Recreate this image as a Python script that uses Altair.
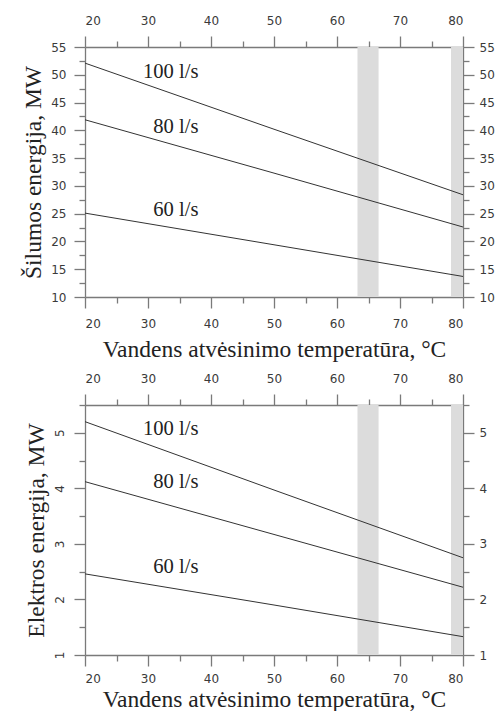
import altair as alt
import pandas as pd

# ---- data ----
temps = [20, 50, 80]
heat_100 = [52.1, 40.2, 28.4]
heat_80 = [41.9, 32.3, 22.6]
heat_60 = [25.1, 19.4, 13.7]
elec_100 = [5.20, 3.97, 2.75]
elec_80 = [4.12, 3.17, 2.22]
elec_60 = [2.46, 1.90, 1.33]
flows = ["100 l/s", "80 l/s", "60 l/s"]

band_start = [63.25, 78.1]
band_end = [66.6, 80.0]

label_x = [38.0, 38.0, 38.0]
heat_label_y = [49.45, 39.6, 24.6]
elec_label_y = [4.96, 4.0, 2.48]

x_major = [20, 30, 40, 50, 60, 70, 80]
x_minor = [25, 35, 45, 55, 65, 75]
heat_major = [10, 15, 20, 25, 30, 35, 40, 45, 50, 55]
heat_minor = [12.5, 17.5, 22.5, 27.5, 32.5, 37.5, 42.5, 47.5, 52.5]
elec_major = [1, 2, 3, 4, 5]
elec_minor = [1.5, 2.5, 3.5, 4.5, 5.5]

x_title = "Vandens atvėsinimo temperatūra, °C"

SERIF = "Liberation Serif"
SANS = "DejaVu Sans"
AXIS_COLOR = "#7a7a7a"
MAJOR = 11
MINOR = 6


def minor_axis(orient, values):
    return alt.Axis(orient=orient, values=values, title=None, labels=False,
                    domain=False, tickSize=MINOR)


def panel(series, y_major, y_minor, domain, y_title, label_y, left_angle,
          bottom_label_pad, x_title_pad):
    rows = []
    for flow, vals in zip(flows, series):
        for t, v in zip(temps, vals):
            rows.append({"temp": t, "value": v, "flow": flow})
    lines_df = pd.DataFrame(rows)
    bands_df = pd.DataFrame({"start": band_start, "end": band_end})
    labels_df = pd.DataFrame({"temp": label_x, "value": label_y, "flow": flows})

    xs = alt.Scale(domain=[20, 80], nice=False, zero=False)
    ys = alt.Scale(domain=domain, nice=False, zero=False)

    bands = alt.Chart(bands_df).mark_rect(color="#dcdcdc").encode(
        x=alt.X("start:Q", scale=xs, axis=alt.Axis(
            orient="bottom", values=x_major, title=x_title, tickSize=MAJOR,
            labelPadding=bottom_label_pad, titlePadding=x_title_pad)),
        x2="end:Q",
    )

    left_axis = dict(orient="left", values=y_major, title=y_title, tickSize=MAJOR,
                     labelPadding=8, titlePadding=5)
    if left_angle:
        left_axis.update(labelAngle=-90, labelAlign="center", labelBaseline="bottom")

    lines = alt.Chart(lines_df).mark_line(color="#333333", strokeWidth=1).encode(
        x=alt.X("temp:Q", scale=xs, axis=alt.Axis(
            orient="top", values=x_major, title=None, tickSize=MAJOR, labelPadding=9)),
        y=alt.Y("value:Q", scale=ys, axis=alt.Axis(**left_axis)),
        detail="flow:N",
    )

    labels = alt.Chart(labels_df).mark_text(
        font=SERIF, fontSize=20.6, align="right", baseline="alphabetic", color="#222222"
    ).encode(
        x=alt.X("temp:Q", scale=xs, axis=None),
        y=alt.Y("value:Q", scale=ys, axis=alt.Axis(
            orient="right", values=y_major, title=None, tickSize=MAJOR, labelPadding=5)),
        text="flow:N",
    )

    ghost_a = alt.Chart(lines_df).mark_point(opacity=0).encode(
        x=alt.X("temp:Q", scale=xs, axis=minor_axis("bottom", x_minor)),
        y=alt.Y("value:Q", scale=ys, axis=minor_axis("left", y_minor)),
    )
    ghost_b = alt.Chart(lines_df).mark_point(opacity=0).encode(
        x=alt.X("temp:Q", scale=xs, axis=minor_axis("top", x_minor)),
        y=alt.Y("value:Q", scale=ys, axis=minor_axis("right", y_minor)),
    )

    return alt.layer(bands, lines, labels, ghost_a, ghost_b).resolve_axis(
        x="independent", y="independent"
    ).properties(width=378, height=250)


top = panel([heat_100, heat_80, heat_60], heat_major, heat_minor, [10, 55],
            "Šilumos energija, MW", heat_label_y, False, 10, 8)
bottom = panel([elec_100, elec_80, elec_60], elec_major, elec_minor, [1, 5.5],
               "Elektros energija, MW", elec_label_y, True, 7, 3)

chart = alt.vconcat(top, bottom, spacing=11).configure_view(stroke=None).configure_axis(
    grid=False,
    domainColor=AXIS_COLOR, domainWidth=1.3,
    tickColor=AXIS_COLOR, tickWidth=1.3,
    labelFont=SANS, labelFontSize=12, labelColor="#3a3a3a",
    titleFont=SERIF, titleFontSize=23.5, titleFontWeight="normal", titleColor="#222222",
).properties(padding={"left": 13, "top": 6, "right": 0, "bottom": 0})

chart.save("out.html", embed_options={"renderer": "svg", "actions": False})
